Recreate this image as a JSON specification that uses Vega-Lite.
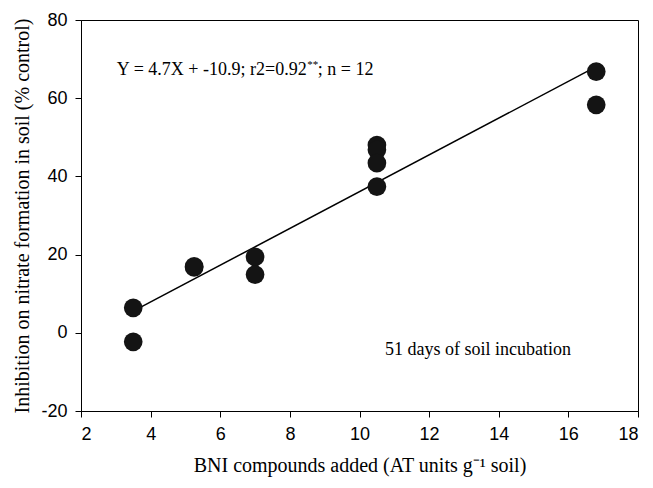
{
  "$schema": "https://vega.github.io/schema/vega-lite/v6.json",
  "width": 557,
  "height": 391,
  "autosize": "none",
  "padding": {"left": 81, "top": 20, "right": 15, "bottom": 77},
  "background": "white",
  "config": {
    "view": {"stroke": "black", "strokeWidth": 1},
    "axis": {
      "grid": false,
      "domainColor": "black",
      "tickColor": "black",
      "labelColor": "black",
      "titleColor": "black",
      "labelFont": "Liberation Sans",
      "labelFontSize": 18,
      "titleFont": "Liberation Serif",
      "titleFontSize": 20,
      "titleFontWeight": "normal",
      "tickSize": 6,
      "labelPadding": 8,
      "labelExpr": "'' + datum.value"
    }
  },
  "datasets": {
    "points": [
      {"x": 3.5, "y": 6.4},
      {"x": 3.5, "y": -2.3},
      {"x": 5.25, "y": 16.7},
      {"x": 5.25, "y": 17.0},
      {"x": 7.0, "y": 19.4},
      {"x": 7.0, "y": 14.9},
      {"x": 10.5, "y": 48.0},
      {"x": 10.5, "y": 46.8},
      {"x": 10.5, "y": 43.4},
      {"x": 10.5, "y": 37.4},
      {"x": 16.8, "y": 66.8},
      {"x": 16.8, "y": 58.3}
    ],
    "fit": [
      {"x": 3.5, "y": 5.55},
      {"x": 16.8, "y": 68.06}
    ],
    "notes": [
      {"x": 3.03, "y": 67.2, "label": "Y = 4.7X + -10.9; r2=0.92"},
      {"x": 10.73, "y": -4.3, "label": "51 days of soil incubation"}
    ],
    "sups": [
      {"x": 8.5, "y": 68.6, "label": "**"}
    ],
    "tails": [
      {"x": 8.8, "y": 67.2, "label": "; n = 12"}
    ]
  },
  "layer": [
    {
      "data": {"name": "fit"},
      "mark": {"type": "line", "color": "black", "strokeWidth": 1.5},
      "encoding": {
        "x": {
          "field": "x", "type": "quantitative",
          "scale": {"domain": [2, 18], "nice": false},
          "axis": {"values": [2,4,6,8,10,12,14,16,18], "title": "BNI compounds added (AT units g⁻¹ soil)", "titlePadding": 12}
        },
        "y": {
          "field": "y", "type": "quantitative",
          "scale": {"domain": [-20, 80], "nice": false},
          "axis": {"values": [-20,0,20,40,60,80], "title": "Inhibition on nitrate formation in soil (% control)", "titlePadding": 8}
        }
      }
    },
    {
      "data": {"name": "points"},
      "mark": {"type": "circle", "color": "#141414", "opacity": 1, "size": 350},
      "encoding": {
        "x": {"field": "x", "type": "quantitative"},
        "y": {"field": "y", "type": "quantitative"}
      }
    },
    {
      "data": {"name": "notes"},
      "mark": {"type": "text", "align": "left", "baseline": "middle", "font": "Liberation Serif", "fontSize": 18, "color": "black"},
      "encoding": {
        "x": {"field": "x", "type": "quantitative"},
        "y": {"field": "y", "type": "quantitative"},
        "text": {"field": "label"}
      }
    },
    {
      "data": {"name": "sups"},
      "mark": {"type": "text", "align": "left", "baseline": "middle", "font": "Liberation Serif", "fontSize": 11, "color": "black"},
      "encoding": {
        "x": {"field": "x", "type": "quantitative"},
        "y": {"field": "y", "type": "quantitative"},
        "text": {"field": "label"}
      }
    },
    {
      "data": {"name": "tails"},
      "mark": {"type": "text", "align": "left", "baseline": "middle", "font": "Liberation Serif", "fontSize": 18, "color": "black"},
      "encoding": {
        "x": {"field": "x", "type": "quantitative"},
        "y": {"field": "y", "type": "quantitative"},
        "text": {"field": "label"}
      }
    }
  ]
}
